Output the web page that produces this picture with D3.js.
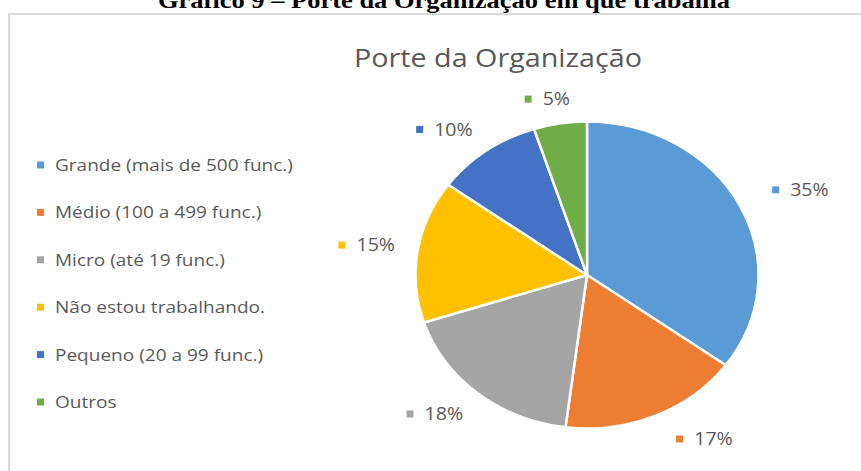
<!DOCTYPE html>
<html>
<head>
<meta charset="utf-8">
<script src="https://cdn.jsdelivr.net/npm/d3@7"></script>
<style>
  body { margin: 0; background: #fff; }
  text { font-family: "Open Sans", sans-serif; fill: #595959; }
</style>
</head>
<body>
<div id="chart"></div>
<script>
const categories = [
  "Grande (mais de 500 func.)",
  "Médio (100 a 499 func.)",
  "Micro (até 19 func.)",
  "Não estou trabalhando.",
  "Pequeno (20 a 99 func.)",
  "Outros"
];
const values = [35, 17, 18, 15, 10, 5];
const colors = ["#5B9BD5", "#ED7D31", "#A5A5A5", "#FFC000", "#4472C4", "#70AD47"];

const width = 861, height = 471;
const cx = 587, cy = 275, r = 153.5, sx = 1.117;  // pie is horizontally stretched
const textSx = 1.12;

const svg = d3.select("#chart").append("svg")
  .attr("width", width)
  .attr("height", height);

// page caption, cut off at top
svg.append("text")
  .attr("x", 158).attr("y", 8)
  .attr("textLength", 572).attr("lengthAdjust", "spacingAndGlyphs")
  .style("font-family", "'Liberation Serif', serif")
  .style("font-weight", "bold")
  .style("font-size", "23px")
  .style("fill", "#000")
  .text("Gráfico 9 – Porte da Organização em que trabalha");

// chart frame
svg.append("rect")
  .attr("x", 9).attr("y", 14)
  .attr("width", 900).attr("height", 500)
  .attr("fill", "none")
  .attr("stroke", "#d9d9d9")
  .attr("stroke-width", 2);

svg.append("text")
  .attr("x", 354).attr("y", 67)
  .attr("textLength", 288).attr("lengthAdjust", "spacingAndGlyphs")
  .style("font-size", "25px")
  .text("Porte da Organização");

// legend
const ly = d3.scalePoint().domain(categories).range([165, 402]);
const items = svg.append("g").selectAll("g").data(categories).enter().append("g")
  .attr("transform", d => `translate(37,${ly(d)})`);
items.append("rect")
  .attr("x", 0).attr("y", -3.5).attr("width", 7).attr("height", 7)
  .attr("fill", (d, i) => colors[i]);
items.append("text")
  .attr("transform", `translate(18,0) scale(${textSx},1)`)
  .attr("dy", "0.35em")
  .style("font-size", "17px")
  .text(d => d);

// pie
const data = categories.map((c, i) => ({ name: c, value: values[i], color: colors[i] }));
const pie = d3.pie().value(d => d.value).sort(null);
const arcs = pie(data);
const arc = d3.arc().innerRadius(0).outerRadius(r);

svg.append("g")
  .attr("transform", `translate(${cx},${cy}) scale(${sx},1)`)
  .selectAll("path").data(arcs).enter().append("path")
  .attr("d", arc)
  .attr("fill", d => d.data.color)
  .attr("stroke", "#fff")
  .attr("stroke-width", 2.5)
  .attr("vector-effect", "non-scaling-stroke");

// data labels, placed just outside the pie
const labelRx = 174, labelRy = 170, boxH = 16, padRight = 12;
const clamp = v => Math.max(-1, Math.min(1, v));
const labels = svg.append("g").selectAll("g").data(arcs).enter().append("g");
labels.append("rect")
  .attr("width", 7).attr("height", 7).attr("y", -3.5)
  .attr("fill", d => d.data.color);
labels.append("text")
  .attr("transform", `translate(18,0) scale(${textSx},1)`)
  .attr("dy", "0.35em")
  .style("font-size", "17.5px")
  .text(d => d.data.value + "%");
labels.each(function (d) {
  const g = d3.select(this);
  const w = 18 + g.select("text").node().getComputedTextLength() * textSx;
  const a = (d.startAngle + d.endAngle) / 2;
  const s = Math.sin(a), c = Math.cos(a);
  const px = cx + sx * labelRx * s + (s > 0 ? padRight : 0);
  const py = cy - labelRy * c;
  const bx = px + clamp(2.6 * s) * w / 2;
  const by = py - clamp(2.6 * c) * boxH / 2;
  g.attr("transform", `translate(${bx - w / 2},${by})`);
});
</script>
</body>
</html>
